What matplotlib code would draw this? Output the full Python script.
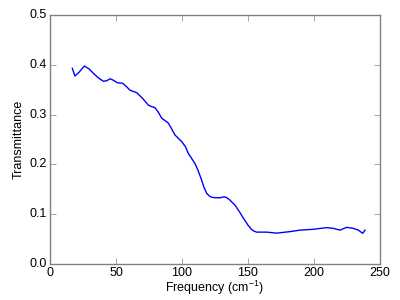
import matplotlib
matplotlib.use("Agg")
import matplotlib.pyplot as plt

# Transmittance spectrum
freq = [16.9, 18.9, 22.0, 26.0, 29.5, 32.8, 36.5, 40.4, 43.0, 45.5, 48.0, 51.0,
        55.0, 58.0, 60.6, 65.7, 70.0, 74.5, 77.0, 79.5, 82.0, 84.6, 89.6,
        92.0, 94.7, 99.8, 102.5, 104.8, 109.8, 112.0, 114.4, 116.5, 118.7,
        120.5, 122.5, 125.5, 128.8, 132.0, 134.0, 136.0, 140.2, 143.5, 146.5,
        150.0, 152.8, 154.5, 156.6, 160.0, 164.0, 171.7, 181.8, 189.4, 199.5,
        209.6, 214.6, 219.7, 224.7, 229.8, 233.6, 236.9, 238.6]
trans = [0.393, 0.3775, 0.385, 0.3976, 0.392, 0.383, 0.374, 0.367, 0.368, 0.372,
         0.369, 0.364, 0.363, 0.356, 0.349, 0.344, 0.333, 0.319, 0.316, 0.314,
         0.305, 0.293, 0.283, 0.272, 0.259, 0.2456, 0.236, 0.222, 0.202, 0.189,
         0.172, 0.155, 0.142, 0.137, 0.134, 0.133, 0.133, 0.135, 0.133, 0.129,
         0.118, 0.105, 0.092, 0.078, 0.069, 0.066, 0.064, 0.064, 0.064, 0.062,
         0.065, 0.068, 0.0697, 0.073, 0.0716, 0.068, 0.0736, 0.0716, 0.068,
         0.0616, 0.068]

plt.style.use("classic")
plt.rcParams["font.family"] = ["Liberation Sans", "DejaVu Sans"]
plt.rcParams["font.size"] = 9
plt.rcParams["mathtext.fontset"] = "custom"
plt.rcParams["mathtext.rm"] = "Liberation Sans"

fig = plt.figure(figsize=(4, 3), dpi=100, facecolor="white")
ax = fig.add_axes([0.125, 0.12, 0.825, 0.83])
ax.plot(freq, trans, color="b", linewidth=1)
ax.set_xlim(0, 250)
ax.set_ylim(0, 0.5)
ax.set_xticks([0, 50, 100, 150, 200, 250])
ax.set_yticks([0.0, 0.1, 0.2, 0.3, 0.4, 0.5])
for sp in ax.spines.values():
    sp.set_color("0.5")
ax.tick_params(colors="0.5", labelcolor="black", labelsize=9, pad=2)
ax.set_xlabel("Frequency (cm$^{-1}$)", labelpad=0)
ax.set_ylabel("Transmittance", labelpad=4)

fig.savefig("out.png", dpi=100, facecolor="white")
